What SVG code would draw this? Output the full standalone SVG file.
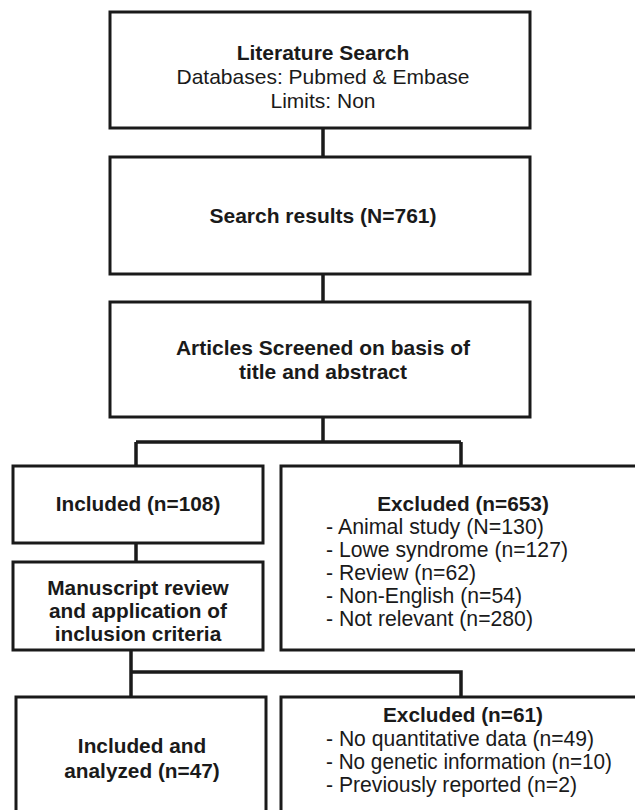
<svg xmlns="http://www.w3.org/2000/svg" width="635" height="810" viewBox="0 0 635 810">
<style>
.box{fill:#fff;stroke:#1a1a1a;stroke-width:3}
.ln{fill:none;stroke:#1a1a1a;stroke-width:3.5}
text{font-family:"Liberation Sans",Arial,sans-serif;fill:#1a1a1a}
.t{font-size:21px}
.tb{font-size:21px;font-weight:bold}
.b{font-size:20.8px;font-weight:bold}
.r{font-size:22.5px}
.c{text-anchor:middle}
</style>
<rect width="635" height="810" fill="#fff"/>
<g id="connectors">
<path class="ln" d="M323 128V157M323 274V302M323 417V442M136 442H461M136 442V466M461 442V466M136 543V562M131 650V672H461V697M131 672V697"/>
</g>
<g id="literature-search">
<rect class="box" x="110" y="12" width="420" height="116"/>
<text class="tb c" x="323" y="60">Literature Search</text>
<text class="t c" x="323" y="84">Databases: Pubmed &amp; Embase</text>
<text class="t c" x="323" y="108">Limits: Non</text>
</g>
<g id="search-results">
<rect class="box" x="110" y="157" width="420" height="117"/>
<text class="tb c" x="323" y="223">Search results (N=761)</text>
</g>
<g id="articles-screened">
<rect class="box" x="110" y="302" width="420" height="115"/>
<text class="tb c" x="323" y="355">Articles Screened on basis of</text>
<text class="tb c" x="323" y="379">title and abstract</text>
</g>
<g id="included-108">
<rect class="box" x="13" y="466" width="250" height="77"/>
<text class="b c" x="138" y="511">Included (n=108)</text>
</g>
<g id="manuscript-review">
<rect class="box" x="13" y="562" width="250" height="88"/>
<text class="b c" x="138" y="595">Manuscript review</text>
<text class="b c" x="138" y="618">and application of</text>
<text class="b c" x="138" y="641">inclusion criteria</text>
</g>
<g id="excluded-653">
<rect class="box" x="281" y="466" width="360" height="184"/>
<text class="b c" x="463" y="511">Excluded (n=653)</text>
<text class="r" x="326" y="534" textLength="218" lengthAdjust="spacingAndGlyphs">- Animal study (N=130)</text>
<text class="r" x="326" y="557" textLength="242" lengthAdjust="spacingAndGlyphs">- Lowe syndrome (n=127)</text>
<text class="r" x="326" y="580" textLength="150" lengthAdjust="spacingAndGlyphs">- Review (n=62)</text>
<text class="r" x="326" y="603" textLength="196" lengthAdjust="spacingAndGlyphs">- Non-English (n=54)</text>
<text class="r" x="326" y="626" textLength="207" lengthAdjust="spacingAndGlyphs">- Not relevant (n=280)</text>
</g>
<g id="included-analyzed">
<rect class="box" x="16" y="697" width="250" height="130"/>
<text class="b c" x="142" y="753">Included and</text>
<text class="b c" x="142" y="778">analyzed (n=47)</text>
</g>
<g id="excluded-61">
<rect class="box" x="281" y="697" width="360" height="130"/>
<text class="b c" x="463" y="722">Excluded (n=61)</text>
<text class="r" x="326" y="746" textLength="268" lengthAdjust="spacingAndGlyphs">- No quantitative data (n=49)</text>
<text class="r" x="326" y="769" textLength="286" lengthAdjust="spacingAndGlyphs">- No genetic information (n=10)</text>
<text class="r" x="326" y="792" textLength="251" lengthAdjust="spacingAndGlyphs">- Previously reported (n=2)</text>
</g>
</svg>
